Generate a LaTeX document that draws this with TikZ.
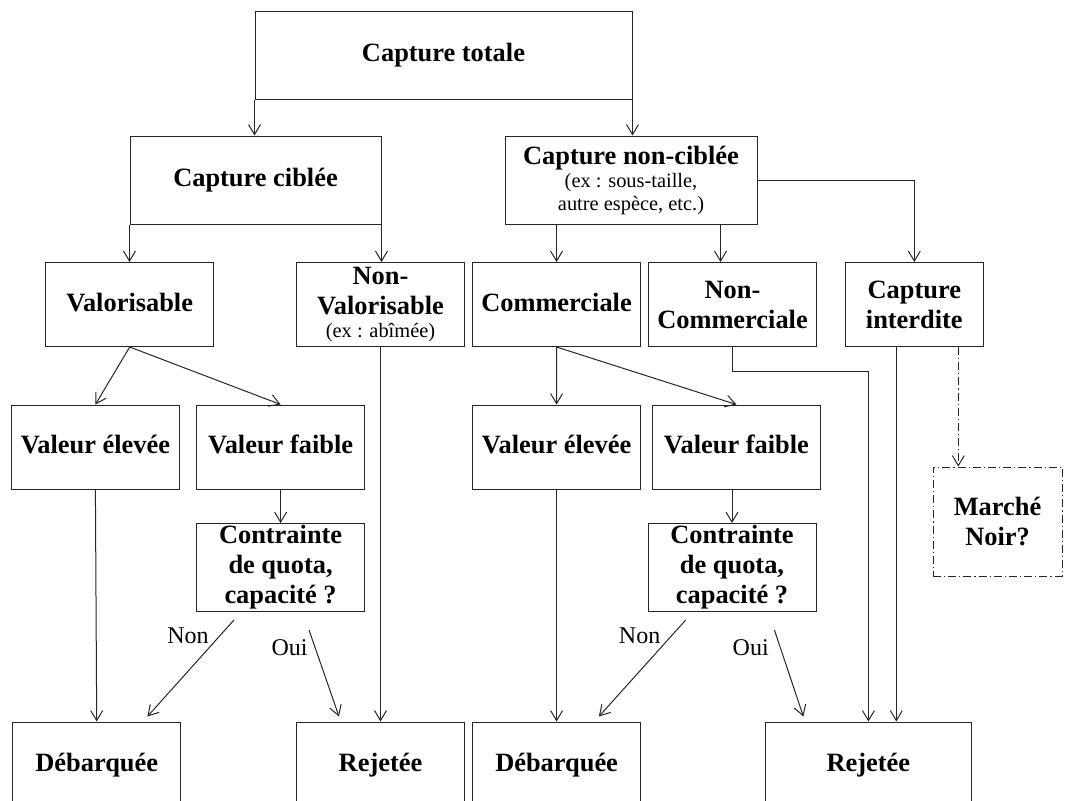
\documentclass[tikz,border=0pt]{standalone}
\usepackage{fontspec}
\setmainfont{Liberation Serif}
\usetikzlibrary{arrows.meta}
\newcommand{\petittxt}{\fontsize{10.2}{11.5}\selectfont\mdseries}

\begin{document}
\begin{tikzpicture}[
        x=0.5pt, y=-0.5pt, % 1 пиксель = 0.5pt, ось y вниз
        line width=0.5pt,
        cell/.style={draw=black!85, rectangle, align=center, inner sep=1pt,
            font=\fontsize{13.2}{15}\selectfont\bfseries}, % стиль блоков
        std/.style={cell, minimum width=84pt, minimum height=42pt},
        ligne/.style={text height=9.5pt, text depth=3pt}, % одна строка
        arr/.style={draw=black!85, -{Straight Barb[length=5pt, width=6pt]}},
        lbl/.style={font=\fontsize{12}{13}\selectfont, inner sep=0pt},
        noirstyle/.style={dash pattern=on 4pt off 1.5pt on 0.6pt off 1.5pt},
    ]
    \useasboundingbox (0,0) rectangle (1065,800);
    \clip (0,0) rectangle (1065,800);

    % уровень 0 и 1
    \node[cell, ligne, minimum width=188.5pt, minimum height=44pt] (tot) at (443.5,55) {Capture totale};
    \node[cell, ligne, minimum width=125.5pt, minimum height=44pt] (cib) at (255.5,180) {Capture ciblée};
    \node[cell, minimum width=126pt, minimum height=44pt] (ncib) at (631,180)
        {Capture non-ciblée\\[-3.5pt]{\petittxt (ex : sous-taille,}\\[-3.5pt]{\petittxt autre espèce, etc.)}};

    % уровень 2
    \node[std, ligne] (val) at (129.7,304.5) {Valorisable};
    \node[std] (nval) at (380.5,304.5) {Non-\\Valorisable\\[-3.5pt]{\petittxt (ex : abîmée)}};
    \node[std, ligne] (com) at (556.5,304.5) {Commerciale};
    \node[std] (ncom) at (732.5,304.5) {Non-\\Commerciale};
    \node[cell, minimum width=69.3pt, minimum height=42pt] (intd) at (914.3,304.5) {Capture\\interdite};

    % уровень 3
    \node[std, ligne] (ve1) at (95.4,447) {Valeur élevée};
    \node[std, ligne] (vf1) at (280.6,447) {Valeur faible};
    \node[std, ligne] (ve2) at (556.6,447) {Valeur élevée};
    \node[std, ligne] (vf2) at (736.4,447) {Valeur faible};
    \node[cell, noirstyle, minimum width=64.5pt, minimum height=54.5pt] (noir) at (997.5,521.5) {Marché\\Noir?};

    \node[std] (cq1) at (280.6,567.5) {Contrainte\\de quota,\\capacité ?};
    \node[std] (cq2) at (732,567.5) {Contrainte\\de quota,\\capacité ?};

    % итог
    \node[std, ligne, minimum height=43pt] (deb1) at (96.7,765) {Débarquée};
    \node[std, ligne, minimum height=43pt] (rej1) at (380.5,765) {Rejetée};
    \node[std, ligne, minimum height=43pt] (deb2) at (556.6,765) {Débarquée};
    \node[cell, ligne, minimum width=102.8pt, minimum height=43pt] (rej2) at (868.4,765) {Rejetée};

    % связи
    \draw[arr] (tot.south west) -- (tot.south west |- cib.north);
    \draw[arr] (tot.south east) -- (tot.south east |- ncib.north);
    \draw[arr] (cib.south west) -- (cib.south west |- val.north);
    \draw[arr] (cib.south east) -- (cib.south east |- nval.north);
    \draw[arr] (ncib.south -| com.north) -- (com.north);
    \draw[arr] ([xshift=-6pt]ncom.north |- ncib.south) -- ([xshift=-6pt]ncom.north);
    \draw[arr] (ncib.east) -| (intd.north);

    \draw[arr] (val.south) -- (ve1.north);
    \draw[arr] (val.south) -- (vf1.north);
    \draw[arr] (nval.south) -- (rej1.north);
    \draw[arr] (com.south) -- (ve2.north);
    \draw[arr] (com.south) -- (vf2.north);
    \draw[arr] (ncom.south) -- ++(0,24) -| (rej2.north);
    \draw[arr] ([xshift=-9pt]intd.south) -- ([xshift=-9pt]intd.south |- rej2.north);
    \draw[arr, noirstyle] ([xshift=22pt]intd.south) -- ([xshift=22pt]intd.south |- noir.north);

    \draw[arr] (ve1.south) -- (deb1.north);
    \draw[arr] (vf1.south) -- (cq1.north);
    \draw[arr] (ve2.south) -- (deb2.north);
    \draw[arr] (cq2.north |- vf2.south) -- (cq2.north);

    % Non / Oui
    \draw[arr] ([shift={(-46.6,8)}]cq1.south) -- node[lbl, pos=0.16, left=5.5pt] {Non} ([shift={(50.7,-5)}]deb1.north);
    \draw[arr] ([shift={(28.4,18)}]cq1.south) -- node[lbl, pos=0.2, left=3.5pt] {Oui} ([shift={(-41.5,-5)}]rej1.north);
    \draw[arr] ([shift={(-46.3,8)}]cq2.south) -- node[lbl, pos=0.16, left=5.5pt] {Non} ([shift={(42.3,-5)}]deb2.north);
    \draw[arr] ([shift={(42.4,18)}]cq2.south) -- node[lbl, pos=0.2, left=5.5pt] {Oui} ([shift={(-65,-5)}]rej2.north);

\end{tikzpicture}
\end{document}
